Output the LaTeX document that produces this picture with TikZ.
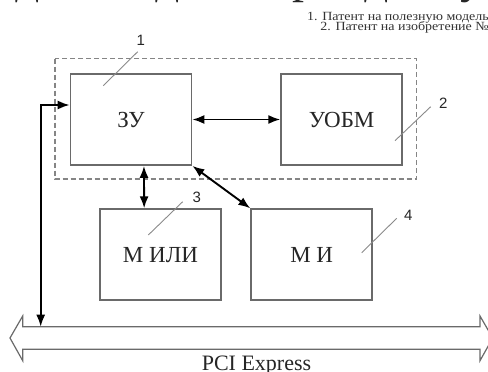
\documentclass[tikz,border=0pt]{standalone}
\usepackage{fontspec}
\usepackage{graphicx}
\setmainfont{Liberation Serif}
\newfontfamily\labelfont{Liberation Sans}
\usetikzlibrary{arrows.meta}
\definecolor{boxgray}{HTML}{6A6A6A}
\definecolor{dashgray}{HTML}{858585}
\definecolor{leadgray}{HTML}{8A8A8A}
\tikzset{
  blk/.style={draw=boxgray, line width=1.7pt, inner sep=0pt, minimum width=121pt, minimum height=91pt,
    font=\fontsize{23}{26}\selectfont, text=black!85},
  link/.style={line width=1.9pt, black, {Latex[length=12pt,width=9pt]}-{Latex[length=12pt,width=9pt]}},
  lead/.style={draw=leadgray, line width=0.9pt},
  num/.style={font=\labelfont\fontsize{15}{17}\selectfont, inner sep=0pt, text=black!85},
  frag/.style={font=\fontsize{48}{52}\selectfont, inner sep=0pt, text=black!85},
  note/.style={inner sep=0pt, anchor=base east, text=black!80}
}
\begin{document}
\begin{tikzpicture}[x=1pt, y=-1pt]
\useasboundingbox (0,0) rectangle (488,372);
\clip (0,0) rectangle (488,372);
\fill[white] (0,0) rectangle (488,372);

% cropped heading fragments
\node[frag, anchor=base] (f1) at (28,-6) {д};
\node[frag, anchor=base] (f2) at (168,-6) {д};
\node[frag, anchor=base west] (f3) at (292,-7) {р};
\node[frag, anchor=base] (f4) at (377,-6) {д};
\node[frag, anchor=base west] (f5) at (460,-7) {у};

% notes at top right
\node[note] (n1) at (489,20) {\scalebox{1.12}[1]{\fontsize{12.5}{14}\selectfont 1. Патент на полезную модель}};
\node[note] (n2) at (489,30.5) {\scalebox{1.12}[1]{\fontsize{12.5}{14}\selectfont 2. Патент на изобретение №}};

% dashed group
\draw[dashgray, line width=1.3pt, dash pattern=on 5pt off 3pt] (55,58.5) rectangle (416.5,179);

% blocks
\node[blk] (zu) at (131,119.5) {ЗУ};
\node[blk] (uobm) at (341.7,119.5) {УОБМ};
\node[blk] (mili) at (160.5,254.7) {М ИЛИ};
\node[blk] (mi) at (311.7,254.7) {М И};

% bus
\draw[boxgray, line width=1.2pt] (10,338) -- (22.7,316) -- (22.7,326.7) -- (480,326.7) -- (480,316) -- (492.7,338)
  -- (480,360.7) -- (480,349.3) -- (22.7,349.3) -- (22.7,360.7) -- cycle;
\coordinate (busin) at (40.7,326.7);
\node[inner sep=0pt, anchor=base, font=\fontsize{22}{25}\selectfont, text=black!85] (pci) at (256.5,370) {PCI Express};

% connectors
\draw[link] (zu.east) -- (uobm.west);
\draw[link] ([xshift=74.3pt]zu.south west) -- ([xshift=45pt]mili.north west);
\draw[link] (zu.south east) -- (mi.north west);
\draw[link] (busin) |- ([yshift=14.5pt]zu.west);

% reference numbers
\node[num] (l1) at (140.7,40.5) {1};
\node[num] (l2) at (443.3,102.8) {2};
\node[num] (l3) at (196.7,197.5) {3};
\node[num] (l4) at (408.3,215.3) {4};
\coordinate (a1) at (137.7,51.7); \coordinate (b1) at (103.3,85.7);
\coordinate (a2) at (430.7,106.7); \coordinate (b2) at (395,140.7);
\coordinate (a3) at (182.7,201.7); \coordinate (b3) at (148.3,235);
\coordinate (a4) at (396.7,218.3); \coordinate (b4) at (361.7,252.7);
\draw[lead] (a1) -- (b1);
\draw[lead] (a2) -- (b2);
\draw[lead] (a3) -- (b3);
\draw[lead] (a4) -- (b4);
\end{tikzpicture}
\end{document}
